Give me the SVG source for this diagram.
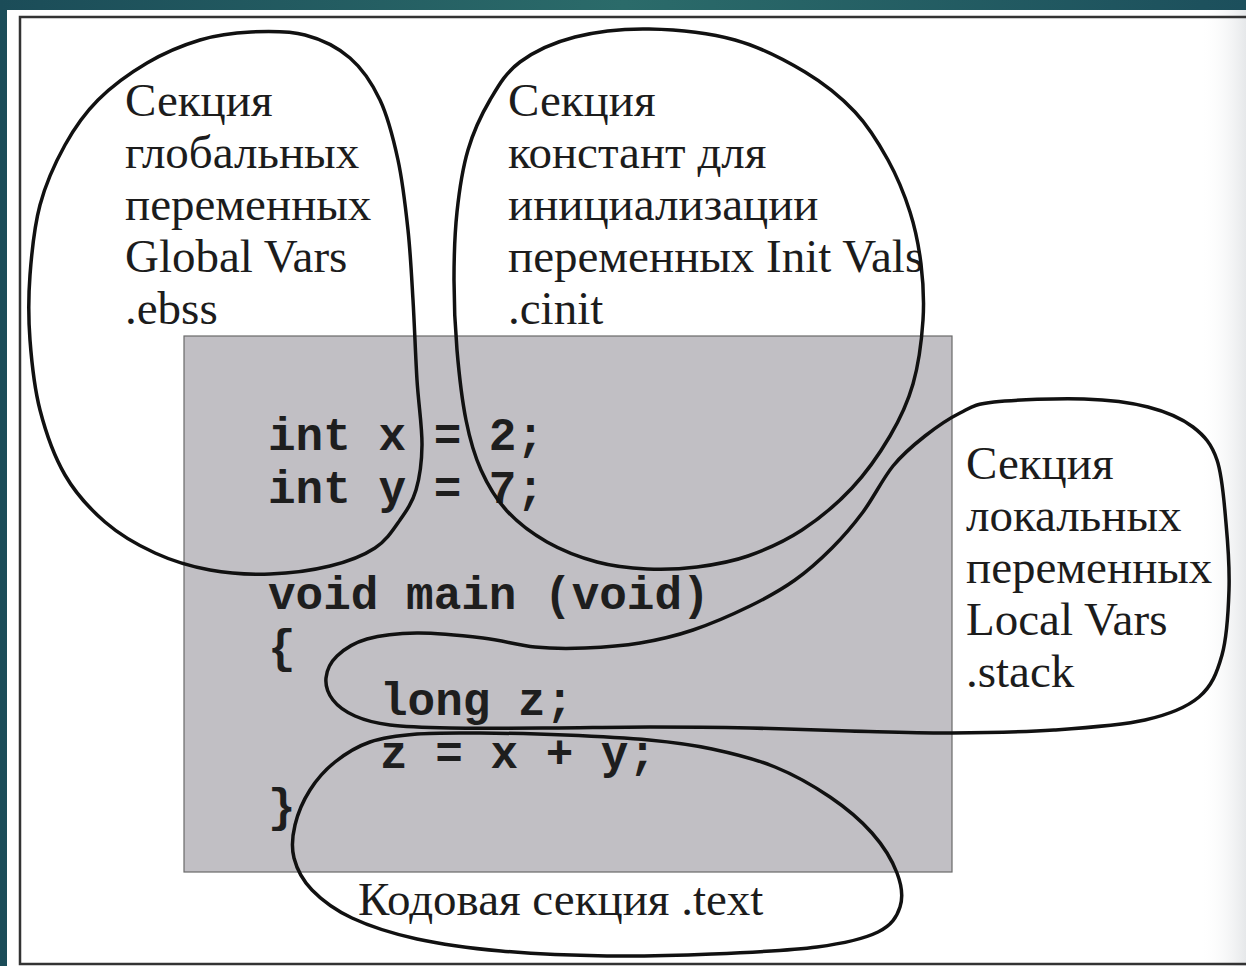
<svg xmlns="http://www.w3.org/2000/svg" width="1246" height="966" viewBox="0 0 1246 966">
  <defs>
    <linearGradient id="teal" x1="0" y1="0" x2="1" y2="0">
      <stop offset="0" stop-color="#1b4c58"/>
      <stop offset="0.5" stop-color="#2b6b6a"/>
      <stop offset="1" stop-color="#1c4f5c"/>
    </linearGradient>
    <linearGradient id="edge" x1="0" y1="0" x2="1" y2="0">
      <stop offset="0" stop-color="#ffffff" stop-opacity="0"/>
      <stop offset="1" stop-color="#e6e8ea"/>
    </linearGradient>
  </defs>
  <style>
    .lbl { font-family: "Liberation Serif", "Times New Roman", serif; font-size: 47px; fill: #1c1c1c; }
    .code { font-family: "Liberation Mono", "Courier New", monospace; font-size: 46px; font-weight: bold; fill: #1e1e1e; }
    .loop { fill: none; stroke: #111; stroke-width: 3.5; stroke-linejoin: round; stroke-linecap: round; }
  </style>

  <!-- slide background and page -->
  <rect x="0" y="0" width="1246" height="966" fill="url(#teal)"/>
  <rect x="7" y="10" width="1239" height="956" fill="#ffffff"/>
  <rect x="1200" y="10" width="46" height="956" fill="url(#edge)"/>
  <rect x="20" y="17" width="1240" height="947" fill="none" stroke="#333" stroke-width="2.5"/>

  <!-- program listing block -->
  <g id="code-block">
    <rect x="184" y="336" width="768" height="536" fill="#c1bfc4" stroke="#6a6a6a" stroke-width="1.2"/>
    <text class="code" x="268" y="450">int x = 2;</text>
    <text class="code" x="268" y="503">int y = 7;</text>
    <text class="code" x="268" y="609">void main (void)</text>
    <text class="code" x="268" y="662">{</text>
    <text class="code" x="380" y="715">long z;</text>
    <text class="code" x="380" y="768">z = x + y;</text>
    <text class="code" x="268" y="821">}</text>
  </g>

  <g id="global-vars">
    <text class="lbl" x="125" y="116">Секция</text>
    <text class="lbl" x="125" y="168">глобальных</text>
    <text class="lbl" x="125" y="220">переменных</text>
    <text class="lbl" x="125" y="272">Global Vars</text>
    <text class="lbl" x="125" y="324">.ebss</text>
  </g>

  <g id="init-vals">
    <text class="lbl" x="508" y="116">Секция</text>
    <text class="lbl" x="508" y="168">констант для</text>
    <text class="lbl" x="508" y="220">инициализации</text>
    <text class="lbl" x="508" y="272">переменных Init Vals</text>
    <text class="lbl" x="508" y="324">.cinit</text>
  </g>

  <g id="local-vars">
    <text class="lbl" x="966" y="479">Секция</text>
    <text class="lbl" x="966" y="531">локальных</text>
    <text class="lbl" x="966" y="583">переменных</text>
    <text class="lbl" x="966" y="635">Local Vars</text>
    <text class="lbl" x="966" y="687">.stack</text>
  </g>

  <g id="code-section">
    <text class="lbl" x="358" y="915">Кодовая секция .text</text>
  </g>

  <!-- hand-drawn section outlines -->
  <g id="outlines">
    <path class="loop" d="M251,32 C268.5,31.2 288.5,30.7 305,35 S337.5,47.2 350,58 S372,83 380,100 S393.3,138.3 398,160 S405.5,206.7 408,230 S411.5,275 413,300 S415.5,355.8 417,380 S422.2,426.7 422,445 S419.7,477.5 416,490 S406.8,510.3 400,520 S386.7,540.3 375,548 S347.5,561.7 330,566 S290,573.3 270,574 S229.2,573.5 210,570 S172.5,561 155,553 S120,535 105,522 S75.8,493.7 65,475 S45.8,432.5 40,410 S31.7,362.5 30,340 S28.3,297.5 30,275 S34.2,226.7 40,205 S55.3,162.5 65,145 S84.3,113.7 98,100 S130,73 147,63 S182.7,45.2 200,40 S233.5,32.8 251,32 Z"/>
    <path class="loop" d="M649,29 C675.7,29.5 709,32.8 735,40 S785,60 805,72 S841.2,97.3 855,112 S878.8,143.3 888,160 S904.5,194.7 910,212 S918.8,246 921,264 S924.3,300 923,320 S918.5,364.7 913,384 S900.2,418.7 890,436 S866.7,472.3 852,488 S819.3,518.7 802,530 S765.5,549.8 748,556 S713.8,564.8 697,567 S663.7,569.8 647,569 S613.7,566.5 597,562 S562,550.5 547,542 S518,523 507,511 S487.8,485.2 481,470 S470,440 466,420 S459,373.3 457,350 S454,303 454,280 S454.7,233.7 457,212 S462.5,168.7 468,150 S481.3,114.7 490,100 S505.8,72.5 520,62 S553.5,42.5 575,37 S622.3,28.5 649,29 Z"/>
    <path class="loop" d="M994,402 C1014.7,399.7 1058.3,398.2 1084,399 S1129.8,402.3 1148,407 S1181.5,418.2 1193,427 S1211.5,444 1217,460 S1224,501.3 1226,523 S1229.7,568 1229,590 S1227,637.2 1222,655 S1211.8,686.2 1199,697 S1169.2,714.5 1145,720 S1086.2,727.8 1054,730 S986,732.8 952,733 S883.7,731.8 850,731 S783.3,728.7 750,728 S683.3,727 650,727 S583.3,727.8 550,728 S476.7,728.5 450,728 S405.8,727 390,725 S364.5,720.2 355,716 S337.8,706.3 333,700 S325.3,685.3 326,678 S330.2,662.5 337,656 S353.7,642.8 367,639 S397.7,633.2 417,633 S463.3,635.7 483,638 S518,645.3 535,647 S567.5,648.7 585,648 S622,646 640,643 S674.7,636.2 693,630 S733,614.3 750,606 S781.3,589.7 795,580 S820.7,559.3 832,548 S852.8,525.7 863,512 S882.7,478.7 893,466 S913.8,444.8 925,436 S948.5,418.7 960,413 S973.3,404.3 994,402 Z"/>
    <path class="loop" d="M417,734 C398.7,735.5 383.7,737.3 370,742 S345,754 335,762 S316.7,779.5 310,790 S297.7,813.7 295,825 S291.2,847.2 294,858 S302.3,880 312,890 S334.5,909.8 352,918 S392.2,933.5 417,939 S469.3,948.2 501,951 S571.8,955.5 607,956 S677,955.5 712,954 S789.3,950.7 817,947 S864.2,938.7 878,932 S896.8,916.8 900,907 S901.7,885.3 897,873 S883.2,845.7 872,833 S846.2,808 830,797 S794.7,775 775,767 S733,753.5 712,749 S673.5,742.3 649,740 S593.2,736.2 565,735 S504.7,733.2 480,733 S435.3,732.5 417,734 Z"/>
  </g>
</svg>
